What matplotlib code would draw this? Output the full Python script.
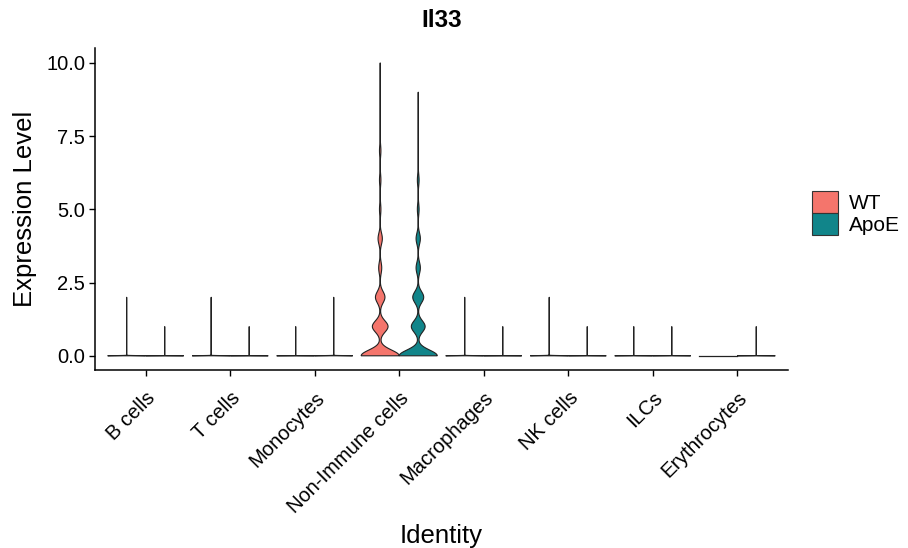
import numpy as np
import matplotlib.pyplot as plt
from matplotlib.patches import Patch

plt.rcParams['font.family'] = ['Liberation Sans', 'DejaVu Sans']

groups = ["B cells", "T cells", "Monocytes", "Non-Immune cells",
          "Macrophages", "NK cells", "ILCs", "Erythrocytes"]
conditions = ["WT", "ApoE"]
colors = ["#F4756C", "#11858A"]

# cell counts per expression level 0, 1, 2, ...
wt_counts = [
    [1850, 3, 1],
    [2200, 4, 1],
    [1900, 1],
    [400, 165, 100, 32, 45, 15, 15, 15, 3, 3, 1],
    [2500, 5, 1],
    [1400, 2, 1],
    [1150, 1],
    [1200],
]
apoe_counts = [
    [1800, 1],
    [2100, 1],
    [1950, 3, 1],
    [400, 145, 115, 45, 45, 18, 18, 2, 2, 1],
    [2300, 1],
    [1380, 1],
    [1160, 1],
    [1220, 1],
]

adjust = 0.55
half = 0.225


def violin_profile(counts):
    vals = np.repeat(np.arange(len(counts)), counts).astype(float)
    n = len(vals)
    sd = vals.std(ddof=1)
    iqr = np.subtract(*np.percentile(vals, [75, 25]))
    lo = min(sd, iqr / 1.34)
    if lo == 0:
        lo = sd if sd > 0 else 1.0
    bw = 0.9 * lo * n ** -0.2 * adjust
    y = np.linspace(vals.min(), vals.max(), 2000)
    lv = np.arange(len(counts))
    c = np.array(counts, dtype=float)
    d = (c[None, :] * np.exp(-0.5 * ((y[:, None] - lv[None, :]) / bw) ** 2)).sum(axis=1)
    return y, d / d.max()


fig = plt.figure(figsize=(9.08, 5.48), dpi=100)
ax = fig.add_axes([0.1046, 0.324, 0.7632, 0.588])

for gi, g in enumerate(groups):
    for ci, counts in enumerate([wt_counts[gi], apoe_counts[gi]]):
        xc = gi + 1 + (ci - 0.5) * 2 * half
        if len(counts) == 1:
            ax.plot([xc - half, xc + half], [0, 0], color="#222222", lw=0.9)
            continue
        y, w = violin_profile(counts)
        xs = np.concatenate([xc - w * half, (xc + w * half)[::-1]])
        ys = np.concatenate([y, y[::-1]])
        ax.fill(xs, ys, facecolor=colors[ci], edgecolor="#222222", lw=0.8)

ax.set_xlim(0.4, len(groups) + 0.6)
ax.set_ylim(-0.5, 10.5)
ax.set_yticks([0, 2.5, 5, 7.5, 10])
ax.set_yticklabels(["0.0", "2.5", "5.0", "7.5", "10.0"])
ax.set_xticks(np.arange(1, len(groups) + 1))
ax.set_xticklabels(groups, rotation=45, ha="right", va="top", rotation_mode="anchor")
for s in ["top", "right"]:
    ax.spines[s].set_visible(False)
for s in ["left", "bottom"]:
    ax.spines[s].set_linewidth(1.1)
ax.tick_params(labelsize=14.5, length=4, width=1.0, pad=3, colors="black")
ax.tick_params(axis="x", pad=9)

ax.set_title("Il33", fontsize=17.5, fontweight="bold", pad=15)
ax.set_xlabel("Identity", fontsize=18.5, labelpad=5)
ax.set_ylabel("Expression Level", fontsize=18.5, labelpad=7)

handles = [Patch(facecolor=colors[i], edgecolor="#333333", lw=0.8) for i in range(2)]
fig.legend(handles, conditions, loc="center left", bbox_to_anchor=(0.894, 0.611),
           frameon=False, fontsize=15, handlelength=1.27, handleheight=1.27,
           labelspacing=0.0, handletextpad=0.5, borderpad=0, borderaxespad=0)

fig.savefig("out.png", dpi=100)
